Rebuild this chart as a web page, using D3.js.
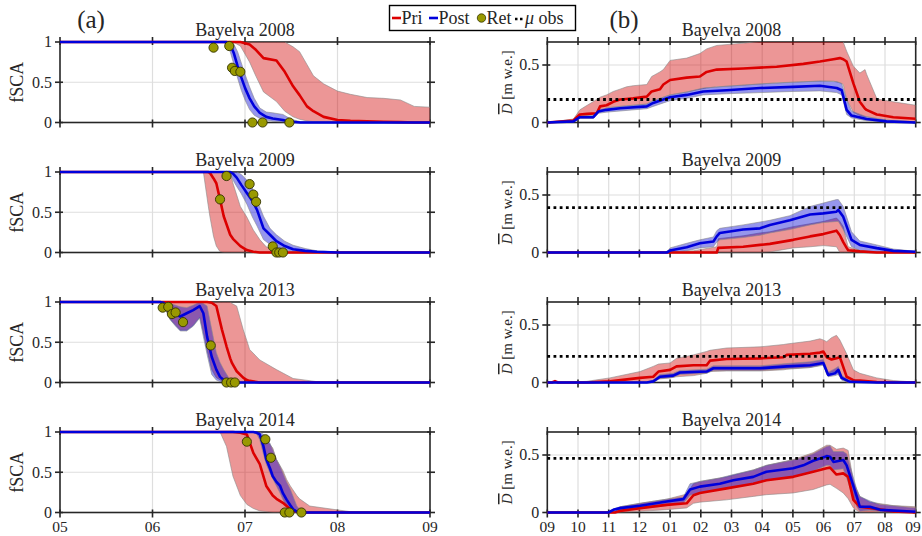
<!DOCTYPE html>
<html>
<head>
<meta charset="utf-8">
<script src="https://cdn.jsdelivr.net/npm/d3@7"></script>
<style>
  html, body { margin: 0; padding: 0; background: #fff; }
</style>
</head>
<body>
<svg id="chart" width="922" height="536" font-family="'Liberation Serif', 'Times New Roman', serif"></svg>
<script>
// Snow-season tick labels (month numbers)
const fscaMonths = ["05", "06", "07", "08", "09"];
const sweMonths = ["09", "10", "11", "12", "01", "02", "03", "04", "05", "06", "07", "08", "09"];
const years = ["2008", "2009", "2013", "2014"];
const siteName = "Bayelva";

// fSCA ensembles, rows: [months since 1 May, mean, lower, upper]
const fscaPri2008 = [
  [0, 1, 1, 1], [1.87, 1, 1, 1], [1.95, 1, 0.95, 1], [2.05, 0.97, 0.75, 1], [2.12, 0.9, 0.57, 1],
  [2.2, 0.8, 0.38, 1], [2.34, 0.77, 0.26, 1], [2.43, 0.63, 0.14, 1], [2.52, 0.45, 0.07, 0.94],
  [2.59, 0.34, 0.04, 0.88], [2.67, 0.2, 0.02, 0.72], [2.74, 0.14, 0.01, 0.58], [2.85, 0.07, 0, 0.48],
  [3.0, 0.03, 0, 0.39], [3.14, 0.02, 0, 0.35], [3.32, 0.015, 0, 0.31], [3.5, 0.01, 0, 0.3],
  [3.68, 0.005, 0, 0.28], [3.83, 0, 0, 0.2], [4, 0, 0, 0.19]
];
const fscaPost2008 = [
  [0, 1, 1, 1], [1.76, 1, 1, 1], [1.8, 1, 0.97, 1], [1.84, 0.97, 0.88, 1], [1.88, 0.86, 0.72, 0.97],
  [1.92, 0.7, 0.55, 0.88], [1.96, 0.56, 0.4, 0.74], [2.0, 0.43, 0.28, 0.6], [2.05, 0.3, 0.16, 0.44],
  [2.1, 0.2, 0.09, 0.3], [2.16, 0.12, 0.05, 0.18], [2.23, 0.07, 0.03, 0.13], [2.3, 0.05, 0.015, 0.12],
  [2.41, 0.03, 0.005, 0.1], [2.5, 0.01, 0, 0.04], [2.6, 0, 0, 0.01], [4, 0, 0, 0]
];
const fscaPri2009 = [
  [0, 1, 1, 1], [1.55, 1, 1, 1], [1.6, 1, 0.6, 1], [1.62, 0.99, 0.45, 1], [1.66, 0.92, 0.2, 1],
  [1.69, 0.86, 0.08, 1], [1.73, 0.66, 0.01, 1], [1.77, 0.45, 0, 1], [1.84, 0.22, 0, 1],
  [1.87, 0.17, 0, 0.86], [1.95, 0.08, 0, 0.57], [2.02, 0.03, 0, 0.44], [2.09, 0.01, 0, 0.28],
  [2.16, 0, 0, 0.16], [2.23, 0, 0, 0.07], [2.34, 0, 0, 0.01], [2.45, 0, 0, 0], [4, 0, 0, 0]
];
const fscaPost2009 = [
  [0, 1, 1, 1], [1.84, 1, 1, 1], [1.87, 0.98, 0.9, 1], [1.91, 0.93, 0.82, 1], [1.96, 0.84, 0.73, 0.97],
  [2.02, 0.74, 0.6, 0.9], [2.08, 0.64, 0.44, 0.8], [2.13, 0.53, 0.33, 0.65], [2.2, 0.3, 0.16, 0.45],
  [2.27, 0.22, 0.1, 0.3], [2.34, 0.14, 0.05, 0.22], [2.43, 0.08, 0.03, 0.14], [2.52, 0.04, 0.01, 0.09],
  [2.65, 0.02, 0, 0.05], [2.78, 0.01, 0, 0.02], [3.0, 0, 0, 0.005], [4, 0, 0, 0]
];
const fscaPri2013 = [
  [0, 1, 1, 1], [1.1, 1, 1, 1], [1.19, 1, 0.79, 1], [1.25, 1, 0.71, 1], [1.3, 1, 0.65, 1],
  [1.37, 1, 0.65, 1], [1.44, 1, 0.71, 1], [1.51, 1, 0.81, 1], [1.55, 1, 0.62, 1], [1.59, 1, 0.4, 1],
  [1.64, 0.99, 0.16, 1], [1.69, 0.95, 0.06, 1], [1.75, 0.66, 0.02, 1], [1.8, 0.45, 0.01, 1],
  [1.84, 0.3, 0, 1], [1.86, 0.24, 0, 0.98], [1.91, 0.14, 0, 0.95], [1.98, 0.06, 0, 0.66],
  [2.02, 0.03, 0, 0.52], [2.05, 0.02, 0, 0.41], [2.16, 0, 0, 0.28], [2.34, 0, 0, 0.16],
  [2.52, 0, 0, 0.05], [2.78, 0, 0, 0.01], [3.0, 0, 0, 0], [4, 0, 0, 0]
];
const fscaPost2013 = [
  [0, 1, 1, 1], [1.08, 1, 1, 1], [1.12, 0.99, 0.97, 1], [1.19, 0.9, 0.78, 0.98], [1.25, 0.85, 0.7, 0.96],
  [1.3, 0.82, 0.64, 0.94], [1.37, 0.86, 0.64, 0.93], [1.44, 0.9, 0.7, 0.96], [1.51, 0.95, 0.8, 1],
  [1.55, 0.86, 0.57, 0.98], [1.59, 0.57, 0.35, 0.95], [1.64, 0.32, 0.1, 0.66], [1.69, 0.16, 0.03, 0.37],
  [1.73, 0.07, 0.01, 0.25], [1.77, 0.03, 0, 0.16], [1.84, 0.01, 0, 0.03], [1.91, 0, 0, 0], [4, 0, 0, 0]
];
const fscaPri2014 = [
  [0, 1, 1, 1], [1.73, 1, 1, 1], [1.8, 1, 0.82, 1], [1.87, 1, 0.45, 1], [1.95, 0.99, 0.21, 1],
  [2.02, 0.97, 0.1, 1], [2.09, 0.74, 0.05, 1], [2.16, 0.6, 0.02, 0.97], [2.23, 0.33, 0.01, 0.9],
  [2.3, 0.21, 0, 0.8], [2.34, 0.17, 0, 0.66], [2.41, 0.12, 0, 0.52], [2.45, 0.08, 0, 0.41],
  [2.49, 0.04, 0, 0.33], [2.56, 0.01, 0, 0.21], [2.59, 0, 0, 0.17], [2.7, 0, 0, 0.08],
  [2.95, 0, 0, 0.04], [3.14, 0, 0, 0.01], [3.32, 0, 0, 0], [4, 0, 0, 0]
];
const fscaPost2014 = [
  [0, 1, 1, 1], [2.09, 1, 1, 1], [2.13, 0.99, 0.97, 1], [2.16, 0.97, 0.9, 1], [2.2, 0.82, 0.72, 0.97],
  [2.23, 0.66, 0.6, 0.92], [2.27, 0.55, 0.49, 0.86], [2.3, 0.45, 0.42, 0.78], [2.34, 0.38, 0.33, 0.66],
  [2.38, 0.33, 0.24, 0.57], [2.41, 0.24, 0.16, 0.49], [2.45, 0.16, 0.08, 0.38], [2.49, 0.09, 0.02, 0.29],
  [2.52, 0.04, 0, 0.2], [2.56, 0.01, 0, 0.08], [2.59, 0, 0, 0.04], [2.63, 0, 0, 0], [4, 0, 0, 0]
];

// Retrieved fSCA: months since 1 May and fraction
const ret2008T = [1.66, 1.83, 1.86, 1.89, 1.95, 2.08, 2.19, 2.48];
const ret2008V = [0.93, 0.95, 0.68, 0.64, 0.63, 0, 0, 0];
const ret2009T = [1.73, 1.80, 2.05, 2.09, 2.12, 2.30, 2.34, 2.37, 2.41];
const ret2009V = [0.66, 0.95, 0.85, 0.72, 0.63, 0.075, 0, 0, 0];
const ret2013T = [1.11, 1.17, 1.21, 1.25, 1.33, 1.63, 1.80, 1.85, 1.89];
const ret2013V = [0.93, 0.94, 0.85, 0.87, 0.75, 0.46, 0, 0, 0];
const ret2014T = [2.02, 2.22, 2.28, 2.43, 2.48, 2.61];
const ret2014V = [0.88, 0.91, 0.68, 0, 0, 0];

// Mean snow water equivalent, rows: [months since 1 Sep, mean, lower, upper] in m w.e.
const swePri2008 = [
  [0, 0, 0, 0], [0.85, 0.017, 0.015, 0.03], [1.06, 0.07, 0.062, 0.11], [1.3, 0.075, 0.062, 0.15],
  [1.61, 0.08, 0.07, 0.2], [1.72, 0.14, 0.1, 0.22], [1.93, 0.15, 0.127, 0.24], [2.15, 0.18, 0.135, 0.27],
  [2.37, 0.2, 0.14, 0.29], [2.58, 0.205, 0.145, 0.31], [2.8, 0.21, 0.15, 0.32], [3.24, 0.225, 0.16, 0.33],
  [3.4, 0.27, 0.185, 0.4], [3.67, 0.29, 0.21, 0.44], [3.78, 0.33, 0.22, 0.46], [4.0, 0.37, 0.24, 0.54],
  [4.54, 0.39, 0.265, 0.56], [4.97, 0.4, 0.29, 0.6], [5.19, 0.44, 0.3, 0.64], [5.52, 0.46, 0.31, 0.67],
  [6.38, 0.47, 0.325, 0.69], [7.47, 0.485, 0.345, 0.72], [8.34, 0.51, 0.355, 0.73], [8.88, 0.53, 0.36, 0.74],
  [9.32, 0.55, 0.36, 0.74], [9.53, 0.56, 0.345, 0.73], [9.64, 0.55, 0.33, 0.7], [9.75, 0.53, 0.2, 0.62],
  [9.97, 0.34, 0.09, 0.49], [10.18, 0.18, 0.06, 0.43], [10.35, 0.12, 0.05, 0.46], [10.4, 0.11, 0.05, 0.42],
  [10.73, 0.07, 0.035, 0.21], [10.84, 0.066, 0.03, 0.2], [11.27, 0.046, 0.015, 0.18], [12, 0.032, 0.005, 0.15]
];
const swePost2008 = [
  [0, 0, 0, 0], [0.85, 0.01, 0.005, 0.015], [1.06, 0.046, 0.035, 0.06], [1.5, 0.046, 0.035, 0.06],
  [1.66, 0.095, 0.08, 0.11], [1.93, 0.11, 0.09, 0.125], [2.37, 0.124, 0.1, 0.14], [3.24, 0.14, 0.12, 0.16],
  [3.45, 0.17, 0.14, 0.19], [3.78, 0.2, 0.17, 0.22], [4.0, 0.22, 0.19, 0.24], [4.54, 0.24, 0.21, 0.265],
  [5.08, 0.27, 0.24, 0.3], [5.84, 0.28, 0.25, 0.315], [6.93, 0.3, 0.26, 0.335], [8.01, 0.31, 0.27, 0.35],
  [8.88, 0.32, 0.275, 0.36], [9.43, 0.3, 0.26, 0.355], [9.59, 0.28, 0.24, 0.34], [9.75, 0.11, 0.07, 0.2],
  [9.91, 0.06, 0.04, 0.1], [10.4, 0.03, 0.015, 0.05], [11.05, 0.01, 0.003, 0.02], [12, 0, 0, 0.005]
];
const swePri2009 = [
  [0, 0, 0, 0], [4.0, 0, 0, 0.005], [4.76, 0, 0, 0.015], [5.52, 0, 0, 0.05], [5.57, 0.04, 0, 0.12],
  [6.38, 0.05, 0, 0.145], [6.93, 0.066, 0, 0.17], [7.25, 0.075, 0.005, 0.18], [8.01, 0.11, 0.04, 0.225],
  [8.56, 0.14, 0.05, 0.25], [8.99, 0.16, 0.06, 0.27], [9.42, 0.19, 0.05, 0.3], [9.53, 0.15, 0, 0.27],
  [9.64, 0.09, 0, 0.225], [9.75, 0.04, 0, 0.1], [9.8, 0.02, 0, 0.05], [10.18, 0.01, 0, 0.017],
  [10.73, 0, 0, 0], [12, 0, 0, 0]
];
const swePost2009 = [
  [0, 0, 0, 0], [3.89, 0, 0, 0.005], [4.0, 0.017, 0, 0.04], [4.54, 0.046, 0.015, 0.08],
  [4.97, 0.08, 0.04, 0.11], [5.41, 0.095, 0.05, 0.135], [5.52, 0.14, 0.09, 0.19], [5.62, 0.17, 0.11, 0.21],
  [6.38, 0.2, 0.13, 0.24], [6.93, 0.21, 0.15, 0.265], [7.25, 0.24, 0.17, 0.28], [7.9, 0.28, 0.2, 0.32],
  [8.56, 0.33, 0.24, 0.4], [8.99, 0.34, 0.26, 0.43], [9.42, 0.355, 0.27, 0.46], [9.48, 0.37, 0.27, 0.46],
  [9.64, 0.31, 0.2, 0.4], [9.91, 0.11, 0.05, 0.18], [10.18, 0.066, 0.017, 0.1], [10.73, 0.038, 0.005, 0.066],
  [11.27, 0.014, 0, 0.03], [12, 0.006, 0, 0.01]
];
const swePri2013 = [
  [0, 0, 0, 0], [0.15, 0, 0, 0], [0.25, 0.012, 0, 0.015], [0.35, 0, 0, 0], [1.28, 0, 0, 0.01],
  [2.04, 0.01, 0, 0.04], [3.02, 0.04, 0, 0.095], [3.45, 0.05, 0.01, 0.14], [3.62, 0.095, 0.03, 0.16],
  [4.0, 0.11, 0.04, 0.17], [4.21, 0.14, 0.05, 0.21], [4.76, 0.15, 0.06, 0.24], [5.19, 0.15, 0.08, 0.27],
  [5.3, 0.19, 0.095, 0.28], [5.84, 0.205, 0.1, 0.3], [6.93, 0.21, 0.1, 0.31], [7.69, 0.22, 0.11, 0.33],
  [7.8, 0.24, 0.115, 0.335], [8.56, 0.25, 0.13, 0.36], [8.88, 0.26, 0.15, 0.38], [8.99, 0.27, 0.17, 0.37],
  [9.1, 0.22, 0.07, 0.355], [9.26, 0.2, 0.09, 0.39], [9.42, 0.21, 0.1, 0.41], [9.53, 0.22, 0.05, 0.37],
  [9.75, 0.05, 0, 0.25], [9.97, 0.02, 0, 0.11], [10.18, 0.017, 0, 0.08], [10.73, 0.005, 0, 0.04],
  [11.27, 0, 0, 0.017], [12, 0, 0, 0.003]
];
const swePost2013 = [
  [0, 0, 0, 0], [3.24, 0, 0, 0.005], [3.45, 0.01, 0, 0.02], [3.67, 0.05, 0.035, 0.07], [4.1, 0.06, 0.045, 0.08],
  [4.32, 0.087, 0.07, 0.105], [5.19, 0.095, 0.08, 0.115], [5.41, 0.124, 0.105, 0.145], [6.93, 0.124, 0.105, 0.145],
  [7.8, 0.14, 0.12, 0.165], [8.56, 0.15, 0.13, 0.18], [8.99, 0.17, 0.15, 0.2], [9.15, 0.066, 0.05, 0.09],
  [9.37, 0.08, 0.06, 0.12], [9.48, 0.11, 0.07, 0.14], [9.59, 0.04, 0.02, 0.06], [9.86, 0.006, 0, 0.015],
  [10.73, 0, 0, 0], [12, 0, 0, 0]
];
const swePri2014 = [
  [0, 0, 0, 0], [2.2, 0, 0, 0.005], [2.37, 0.014, 0, 0.05], [3.02, 0.038, 0.01, 0.08], [3.89, 0.066, 0.025, 0.116],
  [4.54, 0.08, 0.04, 0.16], [4.76, 0.15, 0.08, 0.25], [4.97, 0.17, 0.09, 0.27], [5.84, 0.21, 0.11, 0.31],
  [6.71, 0.25, 0.14, 0.37], [7.14, 0.28, 0.155, 0.41], [8.01, 0.31, 0.17, 0.46], [8.66, 0.355, 0.2, 0.52],
  [9.1, 0.385, 0.24, 0.585], [9.21, 0.39, 0.245, 0.585], [9.42, 0.33, 0.21, 0.55], [9.64, 0.34, 0.17, 0.56],
  [9.8, 0.31, 0.12, 0.54], [9.97, 0.11, 0.04, 0.27], [10.18, 0.05, 0, 0.14], [10.51, 0.04, 0, 0.09],
  [11.27, 0.01, 0, 0.06], [12, 0, 0, 0.05]
];
const swePost2014 = [
  [0, 0, 0, 0], [1.99, 0, 0, 0.005], [2.15, 0.023, 0.005, 0.03], [2.37, 0.038, 0.015, 0.05],
  [3.02, 0.058, 0.03, 0.08], [3.89, 0.095, 0.06, 0.116], [4.43, 0.116, 0.08, 0.135], [4.65, 0.2, 0.15, 0.25],
  [4.97, 0.225, 0.17, 0.27], [5.62, 0.25, 0.2, 0.3], [6.06, 0.28, 0.22, 0.33], [6.71, 0.31, 0.25, 0.37],
  [7.14, 0.355, 0.28, 0.41], [8.01, 0.385, 0.31, 0.457], [8.34, 0.41, 0.33, 0.48], [8.66, 0.45, 0.36, 0.51],
  [9.1, 0.49, 0.41, 0.575], [9.21, 0.485, 0.41, 0.58], [9.32, 0.44, 0.37, 0.53], [9.64, 0.457, 0.38, 0.53],
  [9.75, 0.41, 0.3, 0.51], [10.08, 0.14, 0.05, 0.2], [10.18, 0.05, 0.01, 0.14], [10.51, 0.05, 0.02, 0.1],
  [10.84, 0.023, 0.008, 0.07], [12, 0.006, 0, 0.04]
];

// Observed mean SWE per season (m w.e.)
const obsMean = [0.2, 0.39, 0.228, 0.47];

const fscaPri = [fscaPri2008, fscaPri2009, fscaPri2013, fscaPri2014];
const fscaPost = [fscaPost2008, fscaPost2009, fscaPost2013, fscaPost2014];
const retT = [ret2008T, ret2009T, ret2013T, ret2014T];
const retV = [ret2008V, ret2009V, ret2013V, ret2014V];
const swePri = [swePri2008, swePri2009, swePri2013, swePri2014];
const swePost = [swePost2008, swePost2009, swePost2013, swePost2014];

// ---- styling ----
const RED = "rgb(220,0,0)", BLUE = "rgb(0,0,220)";
const RED_FILL = "rgb(210,0,0)", BLUE_FILL = "rgb(0,0,210)";
const BAND_OPACITY = 0.41;
const AXIS = "#262626", GRID = "#dedede", TEXT = "#262626";
const OLIVE = "#999900";
const W = 922;

const svg = d3.select("#chart");
const rowTop = i => 42 + 130 * i;
const plotH = 80.5;

const left = { x0: 60, x1: 430 };
const right = { x0: 547.3, x1: 915.7 };

function drawPanel(i, cfg) {
  const top = rowTop(i), bottom = top + plotH;
  const x = d3.scaleLinear().domain([0, cfg.ticks.length - 1]).range([cfg.x0, cfg.x1]);
  const y = d3.scaleLinear().domain(cfg.yDomain).range([bottom, top]);
  const g = svg.append("g");
  const clipId = `clip-${cfg.key}-${i}`;
  const lineClipId = `lclip-${cfg.key}-${i}`;
  g.append("clipPath").attr("id", clipId).append("rect")
    .attr("x", cfg.x0).attr("y", top).attr("width", cfg.x1 - cfg.x0).attr("height", plotH);
  g.append("clipPath").attr("id", lineClipId).append("rect")
    .attr("x", cfg.x0).attr("y", top - 2).attr("width", cfg.x1 - cfg.x0).attr("height", plotH + 4);

  // grid
  const xt = d3.range(cfg.ticks.length);
  g.append("g").selectAll("line").data(xt.slice(1, -1)).join("line")
    .attr("x1", d => x(d)).attr("x2", d => x(d)).attr("y1", top).attr("y2", bottom)
    .attr("stroke", GRID).attr("stroke-width", 1.2);
  g.append("g").selectAll("line").data(cfg.yGrid).join("line")
    .attr("x1", cfg.x0).attr("x2", cfg.x1).attr("y1", d => y(d)).attr("y2", d => y(d))
    .attr("stroke", GRID).attr("stroke-width", 1.2);

  // axes box (drawn beneath the curves so the lines sit on top of it)
  const ax = g.append("g");
  ax.append("rect").attr("x", cfg.x0).attr("y", top).attr("width", cfg.x1 - cfg.x0).attr("height", plotH)
    .attr("fill", "none").attr("stroke", AXIS).attr("stroke-width", 1.6);
  xt.forEach(d => {
    [[bottom, 1], [top, -1]].forEach(([yy, s]) => {
      ax.append("line").attr("x1", x(d)).attr("x2", x(d))
        .attr("y1", yy - 3 * s).attr("y2", yy + 5 * s)
        .attr("stroke", AXIS).attr("stroke-width", 1.6);
    });
  });
  cfg.yTicks.forEach(d => {
    [[cfg.x0, -1], [cfg.x1, 1]].forEach(([xx, s]) => {
      ax.append("line").attr("y1", y(d)).attr("y2", y(d))
        .attr("x1", xx - 3 * s).attr("x2", xx + 5 * s)
        .attr("stroke", AXIS).attr("stroke-width", 1.6);
    });
  });

  const bands = g.append("g").attr("clip-path", `url(#${clipId})`);
  const lines = g.append("g").attr("clip-path", `url(#${lineClipId})`);
  const area = d3.area().x(d => x(d[0])).y0(d => y(d[2])).y1(d => y(d[3]));
  const line = d3.line().x(d => x(d[0])).y(d => y(d[1]));

  bands.append("path").datum(cfg.pri).attr("d", area)
    .attr("fill", RED_FILL).attr("fill-opacity", BAND_OPACITY)
    .attr("stroke", "#8a8a8a").attr("stroke-width", 0.6);
  bands.append("path").datum(cfg.post).attr("d", area)
    .attr("fill", BLUE_FILL).attr("fill-opacity", BAND_OPACITY)
    .attr("stroke", "#8a8a8a").attr("stroke-width", 0.6);
  lines.append("path").datum(cfg.pri).attr("d", line)
    .attr("fill", "none").attr("stroke", RED).attr("stroke-width", 2.6).attr("stroke-linejoin", "round");
  lines.append("path").datum(cfg.post).attr("d", line)
    .attr("fill", "none").attr("stroke", BLUE).attr("stroke-width", 2.6).attr("stroke-linejoin", "round");

  if (cfg.obs !== undefined) {
    g.append("line").attr("x1", cfg.x0).attr("x2", cfg.x1)
      .attr("y1", y(cfg.obs)).attr("y2", y(cfg.obs))
      .attr("stroke", "#000").attr("stroke-width", 2.8).attr("stroke-dasharray", "2.8,3.4");
  }

  // y tick labels
  g.selectAll("text.yt").data(cfg.yTicks).join("text").attr("class", "yt")
    .attr("x", cfg.x0 - 8).attr("y", d => y(d)).attr("dy", "0.33em").attr("fill", TEXT)
    .attr("text-anchor", "end").attr("font-size", 16).text(cfg.yFmt);

  if (i === 3) {
    g.selectAll("text.xt").data(xt).join("text").attr("class", "xt")
      .attr("x", d => x(d)).attr("y", bottom + 19).attr("fill", TEXT)
      .attr("text-anchor", "middle").attr("font-size", 15.5).text(d => cfg.ticks[d])
      .each(function () {
        // keep the last month label inside the page edge
        const bb = this.getBBox();
        if (bb.x + bb.width > W - 1) {
          d3.select(this).attr("x", +d3.select(this).attr("x") - (bb.x + bb.width - (W - 1)));
        }
      });
  }

  // title
  g.append("text").attr("x", (cfg.x0 + cfg.x1) / 2).attr("y", top - 6).attr("fill", TEXT)
    .attr("text-anchor", "middle").attr("font-size", 18).text(`${siteName} ${years[i]}`);

  // retrieval markers
  if (cfg.retT) {
    g.append("g").selectAll("circle").data(d3.range(cfg.retT.length)).join("circle")
      .attr("cx", k => x(cfg.retT[k])).attr("cy", k => y(cfg.retV[k])).attr("r", 4.6)
      .attr("fill", OLIVE).attr("stroke", "#333300").attr("stroke-width", 0.9);
  }

  return { top, bottom };
}

for (let i = 0; i < 4; i++) {
  const pl = drawPanel(i, {
    key: "fsca", x0: left.x0, x1: left.x1, ticks: fscaMonths, yDomain: [0, 1],
    yTicks: [0, 0.5, 1], yGrid: [0.5], yFmt: d => String(d),
    pri: fscaPri[i], post: fscaPost[i], retT: retT[i], retV: retV[i]
  });
  svg.append("text")
    .attr("transform", `translate(23,${(pl.top + pl.bottom) / 2}) rotate(-90)`)
    .attr("text-anchor", "middle").attr("font-size", 18).attr("fill", TEXT).text("fSCA");

  const pr = drawPanel(i, {
    key: "swe", x0: right.x0, x1: right.x1, ticks: sweMonths, yDomain: [0, 0.7],
    yTicks: [0, 0.5], yGrid: [0.5], yFmt: d => String(d),
    pri: swePri[i], post: swePost[i], obs: obsMean[i]
  });
  const lab = svg.append("text")
    .attr("transform", `translate(512,${(pr.top + pr.bottom) / 2}) rotate(-90)`)
    .attr("text-anchor", "middle").attr("font-size", 15).attr("fill", TEXT);
  lab.append("tspan").attr("font-style", "italic").style("text-decoration", "overline").text("D");
  lab.append("tspan").text(" [m w.e.]");
}

// panel letters
svg.append("text").attr("x", 91).attr("y", 28).attr("text-anchor", "middle").attr("font-size", 25).attr("fill", TEXT).text("(a)");
svg.append("text").attr("x", 624).attr("y", 28).attr("text-anchor", "middle").attr("font-size", 25).attr("fill", TEXT).text("(b)");

// legend
const lg = svg.append("g");
lg.append("rect").attr("x", 389.5).attr("y", 5.5).attr("width", 186).attr("height", 25)
  .attr("fill", "#fff").attr("stroke", "#000").attr("stroke-width", 1.4);
const ly = 18;
lg.append("line").attr("x1", 392).attr("x2", 401).attr("y1", ly).attr("y2", ly).attr("stroke", RED).attr("stroke-width", 2.6);
lg.append("text").attr("x", 401.5).attr("y", 24).attr("font-size", 18).attr("fill", TEXT).text("Pri");
lg.append("line").attr("x1", 429).attr("x2", 438).attr("y1", ly).attr("y2", ly).attr("stroke", BLUE).attr("stroke-width", 2.6);
lg.append("text").attr("x", 438.5).attr("y", 24).attr("font-size", 18).attr("fill", TEXT).text("Post");
lg.append("circle").attr("cx", 481.5).attr("cy", ly).attr("r", 4.2).attr("fill", OLIVE).attr("stroke", "#333300").attr("stroke-width", 0.8);
lg.append("text").attr("x", 486.5).attr("y", 24).attr("font-size", 18).attr("fill", TEXT).text("Ret");
lg.append("line").attr("x1", 515).attr("x2", 522.5).attr("y1", ly + 1).attr("y2", ly + 1)
  .attr("stroke", "#000").attr("stroke-width", 2.6).attr("stroke-dasharray", "2.5,2.5");
const mu = lg.append("text").attr("x", 525).attr("y", 24).attr("font-size", 18).attr("fill", TEXT);
mu.append("tspan").attr("font-style", "italic").text("μ");
mu.append("tspan").text(" obs");
</script>
</body>
</html>
